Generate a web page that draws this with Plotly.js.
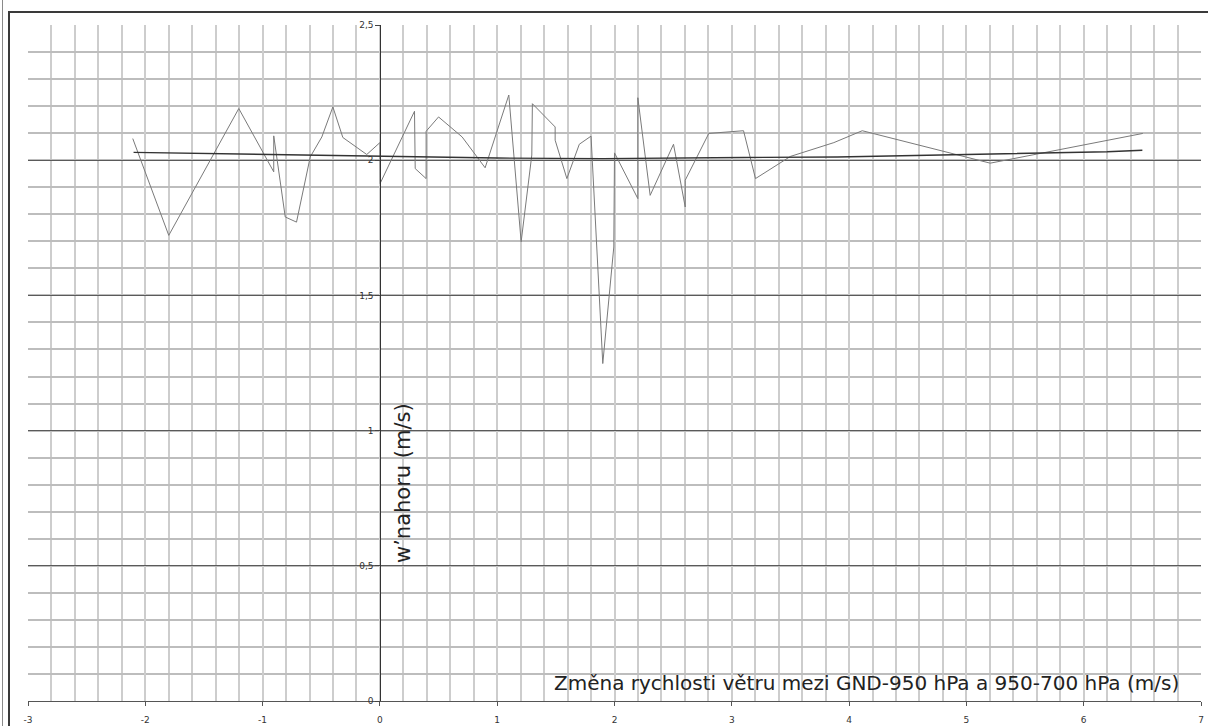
<!DOCTYPE html>
<html>
<head>
<meta charset="utf-8">
<script src="https://cdn.plot.ly/plotly-3.0.1.min.js"></script>
<style>
  html, body { margin: 0; padding: 0; background: #fff; }
  #wrap { position: relative; width: 1208px; height: 726px; overflow: hidden; }
  #chart { position: absolute; left: 0; top: 0; width: 1208px; height: 726px; }
  .frame-left { position: absolute; left: 8px; top: 11px; width: 2px; height: 720px; background: #3a3a3a; }
  .frame-top { position: absolute; left: 8px; top: 11px; width: 1210px; height: 2px; background: #3a3a3a; }
  .edge-left { position: absolute; left: 2px; top: 0; width: 1px; height: 726px; background: #8a8a8a; }
</style>
</head>
<body>
<div id="wrap">
  <div id="chart"></div>
  <div class="edge-left"></div>
  <div class="frame-left"></div>
  <div class="frame-top"></div>
</div>
<script>
// Measured series: change of wind speed (x) vs. upward w' (y)
const windChange = [-2.107, -1.80, -1.203, -0.905, -0.905, -0.807, -0.711, -0.594, -0.495, -0.401,
  -0.316, -0.112, 0.0, 0.002, 0.295, 0.301, 0.394, 0.394, 0.50, 0.701,
  0.897, 1.099, 1.204, 1.295, 1.30, 1.494, 1.494, 1.594, 1.70, 1.80,
  1.90, 1.994, 2.0, 2.199, 2.199, 2.304, 2.503, 2.603, 2.603, 2.804,
  3.10, 3.202, 3.50, 3.87, 4.112, 5.203, 6.504];
const wUp = [2.080, 1.722, 2.191, 1.957, 2.090, 1.790, 1.771, 2.012, 2.086, 2.197,
  2.084, 2.021, 2.065, 1.914, 2.181, 1.969, 1.932, 2.107, 2.160, 2.086,
  1.972, 2.241, 1.698, 2.019, 2.209, 2.123, 2.074, 1.932, 2.059, 2.089,
  1.248, 1.679, 2.027, 1.858, 2.231, 1.870, 2.059, 1.827, 1.926, 2.099,
  2.109, 1.932, 2.014, 2.065, 2.109, 1.989, 2.099];

// Trend curve through the data
const trendX = [-2.1, -1.5, -0.9, -0.4, 0.3, 1.0, 1.9, 2.8, 3.1, 3.9, 4.5, 5.2, 5.8, 6.2, 6.5];
const trendY = [2.029, 2.025, 2.019, 2.015, 2.012, 2.008, 2.006, 2.007, 2.010, 2.012, 2.017, 2.022, 2.027, 2.031, 2.037];

// Tick labels (plain hyphen minus, decimal comma)
const xTickVals = [-3, -2, -1, 0, 1, 2, 3, 4, 5, 6, 7];
const xTickText = ['-3', '-2', '-1', '0', '1', '2', '3', '4', '5', '6', '7'];
const yTickVals = [0, 0.5, 1, 1.5, 2, 2.5];
const yTickText = ['0', '0,5', '1', '1,5', '2', '2,5'];

// Axis texts
const xTitle = 'Změna rychlosti větru mezi GND-950 hPa a 950-700 hPa (m/s)';
const yTitle = 'w’nahoru (m/s)';

const FONT = 'DejaVu Sans, Verdana, sans-serif';
const W = 1208, H = 726;
const M = { l: 28, r: 7, t: 25, b: 25 };
const plotW = W - M.l - M.r, plotH = H - M.t - M.b;
const px2x = p => (p - M.l) / plotW;
const px2y = p => (H - M.b - p) / plotH;

const traces = [
  {
    x: windChange, y: wUp, type: 'scatter', mode: 'lines',
    line: { color: '#7a7a7a', width: 1 }, hoverinfo: 'skip'
  },
  {
    x: trendX, y: trendY, type: 'scatter', mode: 'lines',
    line: { color: '#333333', width: 1.4 }, hoverinfo: 'skip'
  }
];

const layout = {
  width: W, height: H,
  margin: M,
  paper_bgcolor: '#ffffff', plot_bgcolor: '#ffffff',
  showlegend: false,
  font: { family: FONT, size: 9, color: '#333' },
  xaxis: {
    range: [-3, 7],
    tickmode: 'array', tickvals: xTickVals, ticktext: xTickText,
    showgrid: true, gridcolor: '#cdcdcd', gridwidth: 2,
    minor: { tickmode: 'linear', tick0: 0, dtick: 0.2, showgrid: true, gridcolor: '#cdcdcd', gridwidth: 2, ticks: '' },
    zeroline: false,
    showline: true, linecolor: '#555', linewidth: 1,
    ticks: 'outside', ticklen: 4, tickcolor: '#555',
    ticklabelstandoff: 6,
    tickfont: { family: FONT, size: 9, color: '#333' }
  },
  yaxis: {
    range: [0, 2.5],
    tickmode: 'array', tickvals: yTickVals, ticktext: yTickText,
    anchor: 'free', position: px2x(380.4),
    showgrid: true, gridcolor: '#5a5a5a', gridwidth: 1,
    minor: { tickmode: 'linear', tick0: 0, dtick: 0.1, showgrid: true, gridcolor: '#bdbdbd', gridwidth: 2, ticks: '' },
    zeroline: false,
    showline: true, linecolor: '#333', linewidth: 1,
    ticks: 'outside', ticklen: 5, tickcolor: '#444',
    tickfont: { family: FONT, size: 9, color: '#333' }
  },
  annotations: [
    {
      xref: 'paper', yref: 'paper', x: px2x(1181), y: px2y(683),
      xanchor: 'right', yanchor: 'middle', showarrow: false,
      text: xTitle, font: { family: FONT, size: 20, color: '#222' }
    },
    {
      xref: 'paper', yref: 'paper', x: px2x(403), y: px2y(483),
      xanchor: 'center', yanchor: 'middle', showarrow: false, textangle: -90,
      text: yTitle, font: { family: FONT, size: 21, color: '#222' }
    }
  ]
};

Plotly.newPlot('chart', traces, layout, { displayModeBar: false, staticPlot: true });
</script>
</body>
</html>
